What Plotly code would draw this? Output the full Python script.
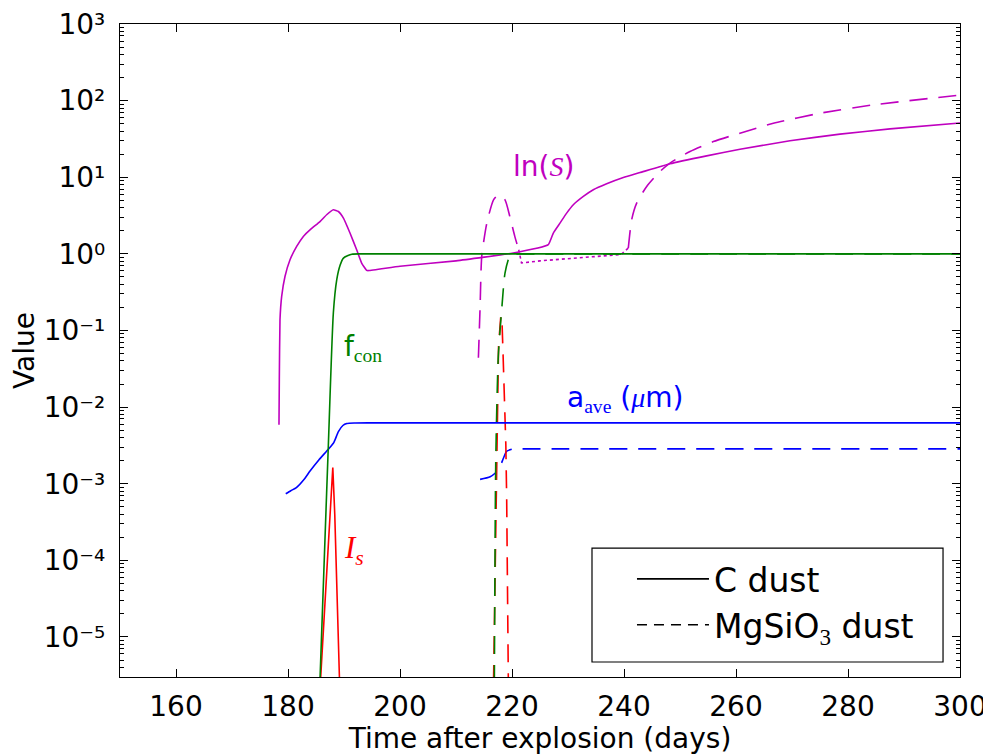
import math
import plotly.graph_objects as go

# ---------------- data ----------------
# C dust
c_lnS_t = [178.39, 178.45, 178.57, 178.87, 179.46, 180.36, 181.55, 182.74, 183.93, 185.71, 186.9, 188.1,
           189.0, 189.9, 191.07, 192.26, 193.15, 194.05, 194.4, 200.0, 210.0, 220.0, 226.49,
           227.38, 228.57, 229.76, 230.95, 232.74, 234.52, 236.9, 239.88, 242.86, 248.21, 254.76,
           260.71, 269.64, 278.57, 287.5, 300.0]
c_lnS_v = [0.0059, 0.0229, 0.138, 0.279, 0.507, 0.838, 1.25, 1.69, 2.06, 2.64, 3.24, 3.76,
           3.57, 2.93, 1.87, 1.13, 0.759, 0.608, 0.605, 0.69, 0.81, 1.02, 1.32,
           1.87, 2.52, 3.40, 4.37, 5.61, 6.85, 8.20, 9.91, 11.5, 15.0, 19.0,
           23.2, 29.9, 36.5, 42.8, 51.0]

c_fcon_t = [185.6, 186.6, 187.2, 188.1, 188.7, 189.3, 189.9, 191.4, 193.0, 196.0, 300.0]
c_fcon_v = [1.6e-6, 1.86e-4, 3.1e-3, 0.17, 0.457, 0.708, 0.881, 0.99, 1.0, 1.0, 1.0]

c_aave_t = [179.6, 180.5, 181.5, 183.0, 183.9, 185.5, 187.2, 188.2, 189.0, 189.8, 190.5, 192.0, 194.6,
            198.0, 300.0]
c_aave_v = [7.4e-4, 8.1e-4, 8.9e-4, 1.17e-3, 1.45e-3, 2.04e-3, 2.82e-3, 3.47e-3, 4.79e-3, 5.75e-3,
            6.1e-3, 6.2e-3, 6.22e-3, 6.22e-3, 6.22e-3]

c_Is_t = [185.7, 186.3, 186.9, 187.5, 188.0, 188.35, 188.7, 189.0, 189.25]
c_Is_v = [2e-6, 1.26e-5, 6.9e-5, 3.5e-4, 1.62e-3, 4e-4, 6.9e-5, 1.26e-5, 2e-6]

# MgSiO3 dust
mg_lnS_t = [214.0, 214.3, 214.6, 215.5, 216.7, 217.6, 218.75, 219.6, 220.5, 221.2, 221.7, 225.0, 230.0,
            235.0, 239.5, 240.77, 241.37, 242.26, 244.05, 246.43, 248.21, 251.79, 255.95, 260.71,
            266.67, 275.0, 284.5, 300.0]
mg_lnS_v = [0.044, 0.2, 0.93, 2.51, 5.07, 5.89, 5.07, 3.09, 1.69, 1.13, 0.76, 0.81, 0.86,
            0.91, 0.98, 1.19, 2.79, 4.59, 7.57, 11.9, 15.3, 21.7, 29.2, 37.6,
            50.7, 68.4, 87.9, 118.0]

mg_fcon_t = [216.85, 217.1, 217.55, 218.2, 218.75, 219.6, 220.5, 222.0, 225.0, 300.0]
mg_fcon_v = [2.5e-6, 2.0e-3, 0.0457, 0.204, 0.562, 0.933, 0.99, 1.0, 1.0, 1.0]

mg_aave_t = [214.3, 216.1, 217.6, 218.3, 219.05, 220.0, 220.8, 223.0, 300.0]
mg_aave_v = [1.14e-3, 1.23e-3, 1.51e-3, 2.0e-3, 2.65e-3, 2.82e-3, 2.85e-3, 2.85e-3, 2.85e-3]

mg_Is_t = [216.7, 217.0, 217.3, 217.6, 218.0, 218.2, 218.4, 218.6, 218.9, 219.05, 219.35]
mg_Is_v = [2.5e-6, 1e-4, 3.2e-3, 0.063, 0.155, 0.141, 0.050, 0.017, 3.2e-3, 6.3e-4, 2.5e-6]

SERIF = "Liberation Serif"
# labels: (text, x, y, colour, anchor, size)
labels = [
    (f"ln(<span style='font-family:{SERIF}'><i>S</i></span>)", 225.6, 13.7, "#BF00BF", "center", 28),
    (f"f<sub><span style='font-family:{SERIF}'>con</span></sub>", 189.6, 0.059, "#008000", "left", 28),
    (f"a<sub><span style='font-family:{SERIF}'>ave</span></sub> (<span style='font-family:{SERIF}'><i>μ</i></span>m)",
     229.4, 0.0126, "#0000FF", "left", 28),
    (f"<span style='font-family:{SERIF}'><i>I<sub>s</sub></i></span>", 189.6, 1.35e-4, "#FF0000", "left", 31),
]

x_ticks = [160, 180, 200, 220, 240, 260, 280, 300]
y_exps = [-5, -4, -3, -2, -1, 0, 1, 2, 3]
SUP = str.maketrans("-0123456789", "⁻⁰¹²³⁴⁵⁶⁷⁸⁹")
y_ticktext = ["10" + str(e).translate(SUP) for e in y_exps]

MAG, GRN, BLU, RED = "#BF00BF", "#008000", "#0000FF", "#FF0000"
DASH = "18px,11px"
LW = 1.6

fig = go.Figure()

def add(t, v, color, dash="solid", shape="spline", smooth=0.6):
    line = dict(color=color, width=LW, dash=dash, shape=shape)
    if shape == "spline":
        line["smoothing"] = smooth
    fig.add_trace(go.Scatter(x=t, y=v, mode="lines", showlegend=False, hoverinfo="skip", line=line))

# MgSiO3 (dashed)
add(mg_lnS_t[:10], mg_lnS_v[:10], MAG, DASH)
add(mg_lnS_t[9:16], mg_lnS_v[9:16], MAG, "3px,3px", "linear")
add(mg_lnS_t[15:], mg_lnS_v[15:], MAG, DASH)
add(mg_aave_t, mg_aave_v, BLU, DASH)
add(mg_Is_t, mg_Is_v, RED, DASH, "linear")
add(mg_fcon_t, mg_fcon_v, GRN, DASH)

# C (solid)
add(c_lnS_t, c_lnS_v, MAG, smooth=0.35)
add(c_aave_t, c_aave_v, BLU)
add(c_Is_t, c_Is_v, RED, shape="linear")
add(c_fcon_t, c_fcon_v, GRN)

# legend entries
fig.add_trace(go.Scatter(x=[None], y=[None], mode="lines", name="C dust",
                         line=dict(color="black", width=LW)))
fig.add_trace(go.Scatter(x=[None], y=[None], mode="lines",
                         name=f"MgSiO<span style='font-family:{SERIF}'><sub>3</sub></span> dust",
                         line=dict(color="black", width=LW, dash="10px,7px")))

for text, x, y, col, anchor, size in labels:
    fig.add_annotation(x=x, y=math.log10(y), xref="x", yref="y", text=text, showarrow=False,
                       xanchor=anchor, yanchor="middle",
                       font=dict(size=size, color=col, family="DejaVu Sans"))

# legend frame
fig.add_shape(type="rect", xref="paper", yref="paper", x0=0.5619, x1=0.9798, y0=0.023, y1=0.1975,
              line=dict(color="black", width=1.2), fillcolor="white", layer="above")

minor_vals = [m * 10 ** e for e in range(-6, 3) for m in range(2, 10)]

# the page body adds an 8 px offset, so the figure is 8 px smaller than the window
fig.update_layout(
    width=983, height=747,
    margin=dict(l=112, r=31, t=16, b=78, autoexpand=False),
    plot_bgcolor="white", paper_bgcolor="white",
    font=dict(family="DejaVu Sans", size=28, color="black"),
    legend=dict(x=0.6095, y=0.193, xanchor="left", yanchor="top",
                bgcolor="rgba(0,0,0,0)", borderwidth=0,
                font=dict(size=33), itemwidth=72, tracegroupgap=0),
)
fig.update_xaxes(
    range=[150, 300], tickvals=x_ticks, ticktext=[str(v) for v in x_ticks], automargin=False,
    showline=True, linecolor="black", linewidth=1.2, mirror="allticks",
    ticks="inside", ticklen=8, tickcolor="black", showgrid=False, zeroline=False,
    tickfont=dict(size=28), ticklabelstandoff=4, ticklabeloverflow="allow",
    title=dict(text="Time after explosion (days)", font=dict(size=28), standoff=2),
)
fig.update_yaxes(
    type="log", range=[math.log10(3e-6), 3], automargin=False,
    tickvals=[10.0 ** e for e in y_exps], ticktext=y_ticktext,
    showline=True, linecolor="black", linewidth=1.2, mirror="allticks",
    ticks="inside", ticklen=8, tickcolor="black", showgrid=False, zeroline=False,
    tickfont=dict(size=28), ticklabelstandoff=8, ticklabeloverflow="allow",
    minor=dict(tickvals=minor_vals, ticks="inside", ticklen=4, tickcolor="black", showgrid=False),
    title=dict(text="Value", font=dict(size=28), standoff=11),
)

fig.write_html("out.html")
